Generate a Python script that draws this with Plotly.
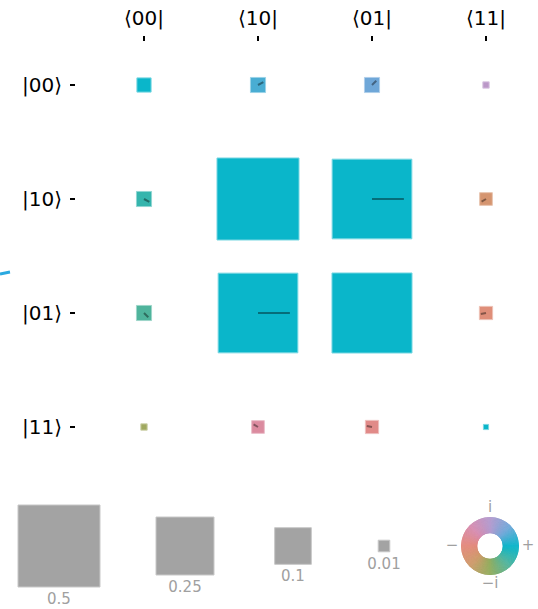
import numpy as np
import plotly.graph_objects as go

# Two-qubit density matrix, basis order 00, 10, 01, 11
bras = ["⟨00|", "⟨10|", "⟨01|", "⟨11|"]
kets = ["|00⟩", "|10⟩", "|01⟩", "|11⟩"]

# |rho_ij|
magnitude = [
    [0.015, 0.017, 0.017, 0.003],
    [0.017, 0.500, 0.472, 0.012],
    [0.017, 0.472, 0.476, 0.013],
    [0.003, 0.012, 0.013, 0.002],
]
# arg(rho_ij) in degrees
phase_deg = [
    [0, 28, 45, 100],
    [-28, 0, 0, -150],
    [-45, 0, 0, -170],
    [-100, 150, 170, 0],
]

# size key
scale_values = [0.5, 0.25, 0.1, 0.01]
scale_labels = ["0.5", "0.25", "0.1", "0.01"]
wheel_labels = ["+", "i", "−", "−i"]  # at 0, 90, 180, 270 degrees

# ---- layout constants (pixels) ----
W, H = 538, 609
PX = 114.0            # pixels per matrix cell
X0, Y0 = 144.0, 85.0  # pixel centre of cell (0, 0)
AX_LEFT, AX_TOP = 76.0, 42.0
BOX = 116.0 / PX      # edge of a unit-magnitude box, in cells
LINE_FRAC = 0.4       # phase needle length relative to box edge
NEEDLE_MIN = 0.005    # no needle on boxes smaller than this magnitude
KEY_X = [59, 185, 293, 384]
KEY_Y = 546
WHEEL_C = (490, 546)
WHEEL_R, WHEEL_HOLE = 29, 12.7


def px_to_data(px, py):
    return (px - X0) / PX, (py - Y0) / PX


# cyclic, roughly iso-luminant phase colours
ANCHORS = [(0, "#0ab6ca"), (45, "#6fa7d8"), (90, "#b39bcf"), (135, "#d68cb0"),
           (180, "#e48a7d"), (225, "#cd9a69"), (270, "#93ad5e"), (315, "#4fb49c")]


def hex_rgb(h):
    return np.array([int(h[i:i + 2], 16) for i in (1, 3, 5)], dtype=float)


def phase_rgb(deg):
    d = deg % 360
    for k in range(len(ANCHORS)):
        a0, c0 = ANCHORS[k]
        a1, c1 = ANCHORS[(k + 1) % len(ANCHORS)]
        a1 = a1 if a1 > a0 else 360
        if a0 <= d <= a1:
            t = (d - a0) / (a1 - a0)
            return (1 - t) * hex_rgb(c0) + t * hex_rgb(c1)
    return hex_rgb(ANCHORS[0][1])


def css(rgb):
    r, g, b = np.clip(np.round(rgb), 0, 255).astype(int)
    return f"rgb({r},{g},{b})"


def lighten(rgb, f):
    return rgb + (255 - rgb) * f


shapes = []
n = len(kets)
for i in range(n):
    for j in range(n):
        m = magnitude[i][j]
        ph = phase_deg[i][j]
        col = phase_rgb(ph)
        half = BOX * np.sqrt(m) / 2
        shapes.append(dict(type="rect", xref="x", yref="y",
                           x0=j - half, x1=j + half, y0=i - half, y1=i + half,
                           fillcolor=css(col), line=dict(color=css(lighten(col, 0.45)), width=1),
                           layer="above"))
        if i != j and m >= NEEDLE_MIN:
            L = LINE_FRAC * 2 * half
            th = np.deg2rad(ph)
            shapes.append(dict(type="line", xref="x", yref="y",
                               x0=j, y0=i, x1=j + L * np.cos(th), y1=i - L * np.sin(th),
                               line=dict(color=css(col * 0.6), width=2), layer="above"))

# size key boxes
grey = hex_rgb("#a3a3a3")
key_text_x, key_text_y = [], []
for v, kx in zip(scale_values, KEY_X):
    cx, cy = px_to_data(kx, KEY_Y)
    half = BOX * np.sqrt(v) / 2
    shapes.append(dict(type="rect", xref="x2", yref="y2",
                       x0=cx - half, x1=cx + half, y0=cy - half, y1=cy + half,
                       fillcolor=css(grey), line=dict(color=css(lighten(grey, 0.4)), width=1)))
    key_text_x.append(cx)
    key_text_y.append(cy + half + 13 / PX)

# short stroke at the left edge
shapes.append(dict(type="line", xref="paper", yref="paper",
                   x0=0, x1=10 / W, y0=1 - 274 / H, y1=1 - 272 / H,
                   line=dict(color="#2aa9e0", width=3)))

fig = go.Figure()

# invisible points for hover on the matrix
cx_list, cy_list, hov = [], [], []
for i in range(n):
    for j in range(n):
        cx_list.append(j)
        cy_list.append(i)
        hov.append(f"{kets[i]}{bras[j]}: |ρ|={magnitude[i][j]}, φ={phase_deg[i][j]}°")
fig.add_trace(go.Scatter(x=cx_list, y=cy_list, mode="markers", marker=dict(opacity=0),
                         hovertext=hov, hoverinfo="text", xaxis="x", yaxis="y", showlegend=False))

# size key labels
fig.add_trace(go.Scatter(x=key_text_x, y=key_text_y, mode="text", text=scale_labels,
                         textposition="middle center",
                         textfont=dict(family="DejaVu Sans", size=15, color="#a0a0a0"),
                         xaxis="x2", yaxis="y2", hoverinfo="skip", showlegend=False))

# phase wheel labels
wx, wy = px_to_data(*WHEEL_C)
lab_r = (WHEEL_R + 9) / PX
wl_x = [wx + lab_r * np.cos(np.deg2rad(a)) for a in (0, 90, 180, 270)]
wl_y = [wy - lab_r * np.sin(np.deg2rad(a)) for a in (0, 90, 180, 270)]
fig.add_trace(go.Scatter(x=wl_x, y=wl_y, mode="text", text=wheel_labels,
                         textposition="middle center",
                         textfont=dict(family="DejaVu Sans", size=15, color="#a0a0a0"),
                         xaxis="x2", yaxis="y2", hoverinfo="skip", showlegend=False))

# phase colour wheel
step = 2
thetas = np.arange(0, 360, step)
fig.add_trace(go.Barpolar(r=[1] * len(thetas), theta=thetas, width=[step] * len(thetas),
                          marker=dict(color=[css(phase_rgb(t)) for t in thetas],
                                      line=dict(color=[css(phase_rgb(t)) for t in thetas], width=0.6)),
                          hoverinfo="skip", showlegend=False, subplot="polar"))

wcx, wcy = WHEEL_C
fig.update_layout(
    width=W, height=H, margin=dict(l=0, r=0, t=0, b=0),
    paper_bgcolor="white", plot_bgcolor="rgba(0,0,0,0)",
    shapes=shapes,
    xaxis=dict(domain=[AX_LEFT / W, 1], range=[(AX_LEFT - X0) / PX, (W - X0) / PX],
               side="top", anchor="y", tickmode="array", tickvals=list(range(n)), ticktext=bras,
               ticks="outside", ticklen=5, tickwidth=1.5, tickcolor="black",
               ticklabelstandoff=3,
               showgrid=False, zeroline=False, showline=False,
               tickfont=dict(family="DejaVu Sans", size=20, color="black")),
    yaxis=dict(domain=[0, 1 - AX_TOP / H], range=[(H - Y0) / PX, (AX_TOP - Y0) / PX],
               anchor="x", tickmode="array", tickvals=list(range(n)), ticktext=kets,
               ticks="outside", ticklen=5, tickwidth=1.5, tickcolor="black",
               ticklabelstandoff=4,
               showgrid=False, zeroline=False, showline=False,
               tickfont=dict(family="DejaVu Sans", size=20, color="black")),
    xaxis2=dict(domain=[0, 1], range=[-X0 / PX, (W - X0) / PX], anchor="y2", visible=False),
    yaxis2=dict(domain=[0, 1], range=[(H - Y0) / PX, -Y0 / PX], anchor="x2", visible=False),
    polar=dict(domain=dict(x=[(wcx - WHEEL_R) / W, (wcx + WHEEL_R) / W],
                           y=[1 - (wcy + WHEEL_R) / H, 1 - (wcy - WHEEL_R) / H]),
               hole=WHEEL_HOLE / WHEEL_R, bgcolor="rgba(0,0,0,0)",
               radialaxis=dict(visible=False, range=[0, 1]),
               angularaxis=dict(visible=False, rotation=0, direction="counterclockwise")),
)

fig.write_html("out.html")
